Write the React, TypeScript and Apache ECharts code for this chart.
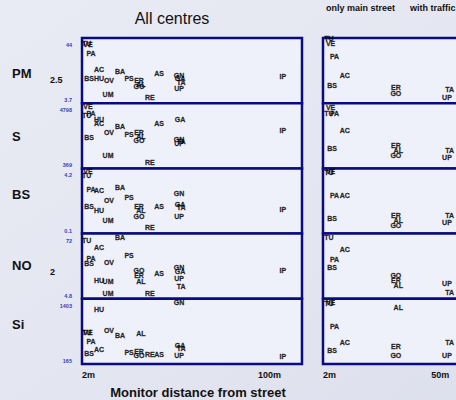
import React, { useEffect, useRef } from 'react';
import * as echarts from 'echarts';

// Monitoring stations and their distance from the street (m)
const stations = ['TU', 'VE', 'PA', 'AC', 'BS', 'HU', 'OV', 'UM', 'BA', 'PS', 'ER', 'AL', 'GO', 'RE', 'AS', 'GN', 'GA', 'TA', 'UP', 'IP'];
const distance = [4.4, 5.1, 6.7, 10.9, 5.7, 10.9, 16.1, 15.6, 21.9, 26.6, 31.8, 32.8, 31.8, 37.5, 42.3, 52.7, 53.2, 53.8, 52.7, 107];

// All centres (left panel)
const pm25All = [40.9, 39.7, 34.7, 24.8, 19.2, 19.2, 18.0, 9.3, 23.5, 19.2, 18.0, 15.5, 14.2, 7.4, 22.3, 21.1, 19.2, 16.7, 13.0, 20.4];
const sAll = [3978, 4591, 4114, 3434, 2480, 3706, 2821, 1254, 3229, 2684, 2821, 2548, 2276, 778, 3434, 2344, 3706, 2208, 2072, 2957];
const bsAll = [3.76, 4.01, 2.88, 2.81, 1.8, 1.55, 2.18, 0.92, 3.0, 2.37, 1.8, 1.55, 1.17, 0.48, 1.8, 2.62, 1.93, 1.74, 1.17, 1.61];
const no2All = [64.8, null, 46.2, 57.5, 41.0, 23.4, 42.0, 22.4, 67.9, 49.3, 28.6, 22.4, 33.8, 10.0, 30.7, 36.9, 32.7, 17.2, 25.5, 33.8];
const no2AllExtra: [string, number][] = [['UM', 10.0]];
const siAll = [756, 756, 584, 432, 356, 1194, 794, null, 698, 375, 394, 737, 317, 336, 336, 1327, 508, 451, 317, 298];

// Only main street (right panel)
const pm25Main = [43.4, 40.9, 32.8, 21.1, 14.9, null, null, null, null, null, 13.6, null, 9.9, null, null, null, null, 12.4, 7.4, null];
const sMain = [4114, 4523, 4114, 2957, 1731, null, null, null, null, null, 1935, 1595, 1254, null, null, null, null, 1595, 1118, null];
const bsMain = [3.95, 4.01, 2.5, 2.5, 1.05, null, null, null, null, null, 1.24, 0.92, 0.6, null, null, null, null, 1.24, 0.79, null];
const no2Main = [67.9, null, 45.1, 55.5, 36.9, null, null, null, null, null, 23.4, 18.2, 28.6, null, null, null, null, 11.0, 20.3, null];
const siMain = [1308, 1327, 870, 565, 413, null, null, null, null, null, 489, 1232, 317, null, null, null, null, 565, 317, null];

const rowNames = ['PM', 'S', 'BS', 'NO', 'Si'];
const rowSubs = ['2.5', '', '', '2', ''];
const yMin = [3.7, 369, 0.1, 4.8, 165];
const yMax = [44, 4798, 4.2, 72, 1403];
const yTopLabels = ['44', '4798', '4.2', '72', '1403'];
const yBottomLabels = ['3.7', '369', '0.1', '4.8', '165'];
const xLeftRange = [2, 117];
const xRightRange = [2, 92];
const xLeftTicks = [2, 100];
const xRightTicks = [2, 50];

const allRows = [pm25All, sAll, bsAll, no2All, siAll];
const mainRows = [pm25Main, sMain, bsMain, no2Main, siMain];

const FONT = '"Liberation Sans", Arial, sans-serif';

export default function App() {
  const ref = useRef<HTMLDivElement>(null);

  useEffect(() => {
    if (!ref.current) return;
    document.body.style.overflow = 'hidden';
    const chart = echarts.init(ref.current, undefined, { renderer: 'svg' });

    const rowTop = 38;
    const rowH = 65.2;
    const grids: any[] = [];
    const xAxes: any[] = [];
    const yAxes: any[] = [];
    const series: any[] = [];

    for (let p = 0; p < 2; p++) {
      for (let r = 0; r < 5; r++) {
        const gi = p * 5 + r;
        grids.push({
          left: p === 0 ? 82 : 323,
          top: rowTop + rowH * r,
          width: 220,
          height: rowH,
          show: true,
          backgroundColor: '#eff1fa',
          borderColor: '#0b0b80',
          borderWidth: 2.5,
        });
        const range = p === 0 ? xLeftRange : xRightRange;
        const ticks = p === 0 ? xLeftTicks : xRightTicks;
        xAxes.push({
          type: 'value',
          gridIndex: gi,
          min: range[0],
          max: range[1],
          axisLine: { show: false },
          axisTick: { show: false },
          splitLine: { show: false },
          axisLabel: {
            show: r === 4,
            customValues: ticks,
            margin: 6,
            fontSize: 9,
            fontWeight: 'bold',
            fontFamily: FONT,
            color: '#111',
            formatter: (v: number) => (v === ticks[0] ? '{l|' + v + 'm}' : v + 'm'),
            rich: { l: { padding: [0, 0, 0, 13], fontSize: 9, fontWeight: 'bold', fontFamily: FONT, color: '#111' } },
          },
        });
        const span = yMax[r] - yMin[r];
        const topTick = yMax[r] - (7 / rowH) * span;
        const botTick = yMin[r] + (3 / rowH) * span;
        const mid = (yMin[r] + yMax[r]) / 2;
        yAxes.push({
          type: 'value',
          gridIndex: gi,
          min: yMin[r],
          max: yMax[r],
          axisLine: { show: false },
          axisTick: { show: false },
          splitLine: { show: false },
          axisLabel: {
            show: p === 0,
            customValues: [botTick, topTick],
            margin: 10,
            fontSize: 5.5,
            fontWeight: 'bold',
            fontFamily: FONT,
            color: '#4040b4',
            formatter: (v: number) => (v > mid ? yTopLabels[r] : yBottomLabels[r]),
          },
        });

        const vals = p === 0 ? allRows[r] : mainRows[r];
        const data: any[] = [];
        stations.forEach((s, i) => {
          const v = vals[i];
          if (v !== null && v !== undefined) data.push({ name: s, value: [distance[i], v] });
        });
        if (p === 0 && r === 3) {
          no2AllExtra.forEach(([s, v]) => data.push({ name: s, value: [distance[stations.indexOf(s)], v] }));
        }
        series.push({
          type: 'scatter',
          xAxisIndex: gi,
          yAxisIndex: gi,
          symbolSize: 1,
          itemStyle: { color: 'rgba(0,0,0,0)' },
          clip: false,
          silent: true,
          data,
          label: {
            show: true,
            position: 'inside',
            formatter: '{b}',
            fontSize: 7,
            fontWeight: 'bold',
            fontFamily: FONT,
            color: '#000',
            textBorderColor: '#000',
            textBorderWidth: 0.3,
          },
        });
      }
    }

    const graphics: any[] = [
      {
        type: 'text', x: 172, y: 18,
        style: { text: 'All centres', fontSize: 16, fontFamily: FONT, fill: '#111', textAlign: 'center', textVerticalAlign: 'middle' },
      },
      {
        type: 'text', x: 326, y: 8,
        style: { text: 'only main street', fontSize: 9, fontWeight: 'bold', fontFamily: FONT, fill: '#111', textAlign: 'left', textVerticalAlign: 'middle' },
      },
      {
        type: 'text', x: 410, y: 8,
        style: { text: 'with traffic', fontSize: 9, fontWeight: 'bold', fontFamily: FONT, fill: '#111', textAlign: 'left', textVerticalAlign: 'middle' },
      },
      {
        type: 'text', x: 198, y: 392,
        style: { text: 'Monitor distance from street', fontSize: 13, fontWeight: 'bold', fontFamily: FONT, fill: '#111', textAlign: 'center', textVerticalAlign: 'middle' },
      },
    ];
    const rowLabelY = [73, 136, 194, 265, 324];
    rowNames.forEach((n, r) => {
      graphics.push({
        type: 'text', x: 12, y: rowLabelY[r],
        style: { text: n, fontSize: 13, fontWeight: 'bold', fontFamily: FONT, fill: '#111', textAlign: 'left', textVerticalAlign: 'middle' },
      });
      if (rowSubs[r]) {
        graphics.push({
          type: 'text', x: 50, y: rowLabelY[r] + 7,
          style: { text: rowSubs[r], fontSize: 9, fontWeight: 'bold', fontFamily: FONT, fill: '#111', textAlign: 'left', textVerticalAlign: 'middle' },
        });
      }
    });

    chart.setOption({
      animation: false,
      backgroundColor: new echarts.graphic.LinearGradient(0, 0, 1, 1, [
        { offset: 0, color: '#e8eaf4' },
        { offset: 0.5, color: '#e4e6f1' },
        { offset: 1, color: '#dcdfec' },
      ]),
      grid: grids,
      xAxis: xAxes,
      yAxis: yAxes,
      series,
      graphic: graphics,
    });

    return () => chart.dispose();
  }, []);

  return <div ref={ref} style={{ position: 'fixed', left: 0, top: 0, width: 560, height: 400 }} />;
}
